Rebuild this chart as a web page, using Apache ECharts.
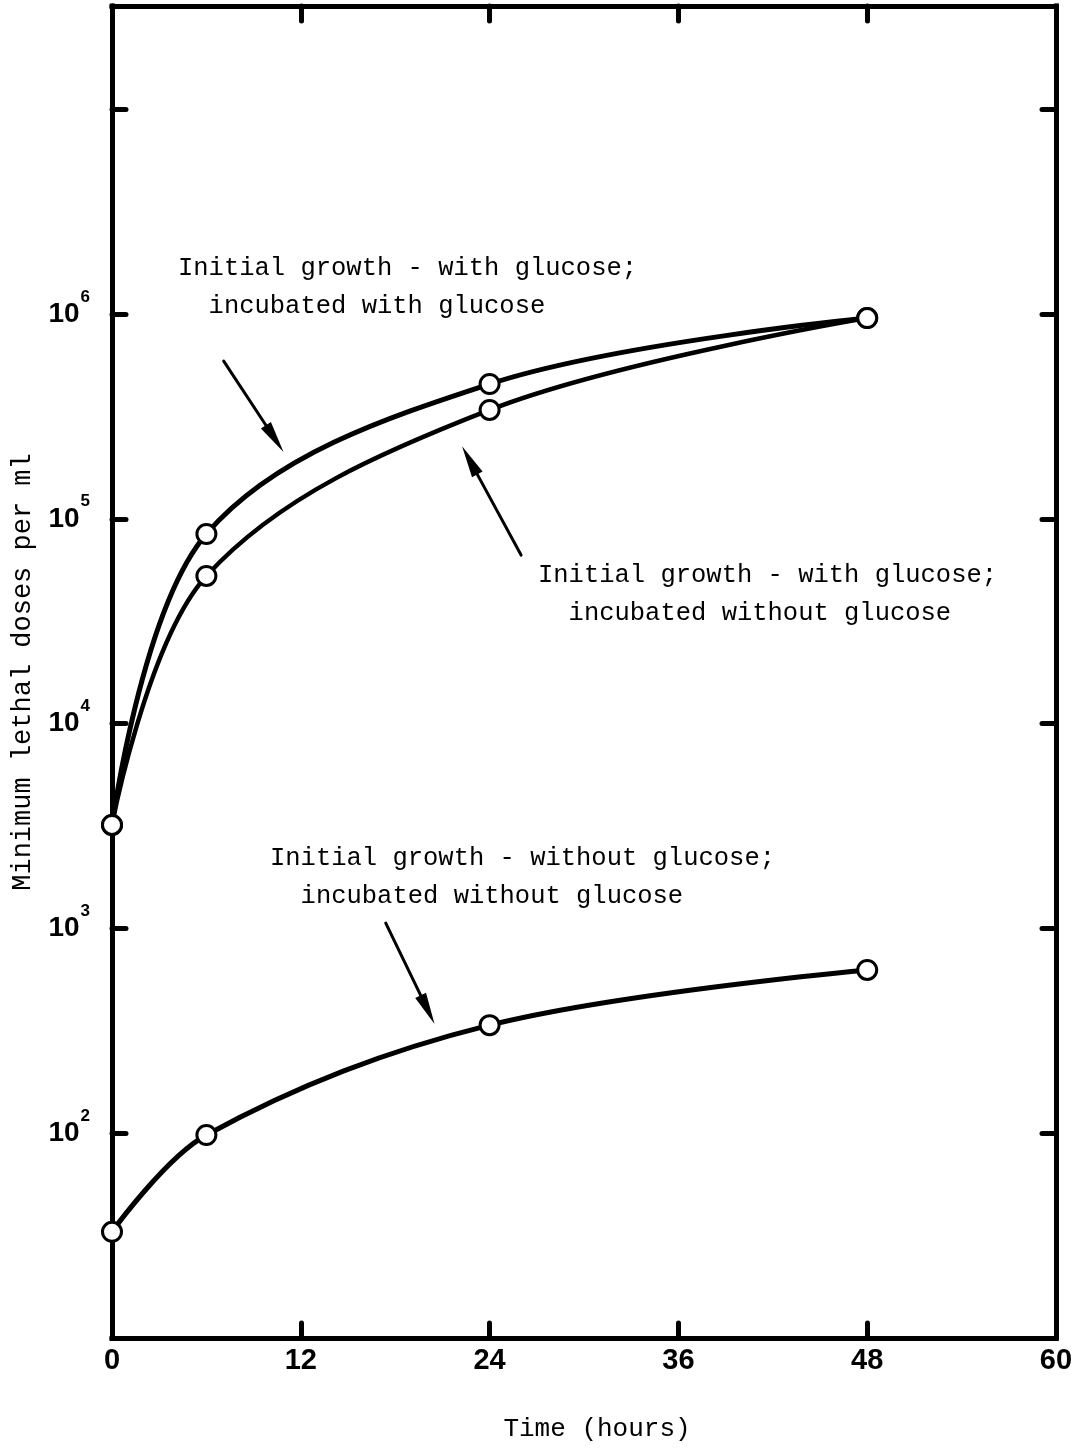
<!DOCTYPE html>
<html>
<head>
<meta charset="utf-8">
<script src="https://cdn.jsdelivr.net/npm/echarts@6/dist/echarts.min.js"></script>
<style>
html,body{margin:0;padding:0;background:#fff;}
#c{width:1079px;height:1449px;}
</style>
</head>
<body>
<div id="c"></div>
<script>
// ---- data ----
const hours = [0, 6, 24, 48];
const withGlucoseIncWithGlucose = [3200, 84300, 455000, 955000];
const withGlucoseIncWithoutGlucose = [3200, 52600, 340000, 955000];
const withoutGlucoseIncWithoutGlucose = [33, 98, 337, 627];
const xTickValues = [0, 12, 24, 36, 48, 60];
const yLabelExponents = [2, 3, 4, 5, 6];
// arrows: [tailHours, tailValue, tipHours, tipValue]
const arrows = [
  [7.1, 5.89e5, 10.9, 2.12e5],
  [26.0, 6.65e4, 22.25, 2.26e5],
  [17.4, 1062, 20.5, 341]
];
const annotationTexts = [
  ['Initial growth - with glucose;', '  incubated with glucose'],
  ['Initial growth - with glucose;', '  incubated without glucose'],
  ['Initial growth - without glucose;', '  incubated without glucose']
];
const annotationPos = [[178, 249], [538, 556], [270, 839]];

// ---- chart ----
const chart = echarts.init(document.getElementById('c'), null, {renderer: 'canvas'});
const BLACK = '#000';
const axisLineStyle = {color: BLACK, width: 5, cap: 'square'};
const tickStyle = {color: BLACK, width: 5, cap: 'round'};
const MONO = '"Liberation Mono", "DejaVu Sans Mono", monospace';
const SANS = '"Liberation Sans", Arial, sans-serif';

function lineSeries(name, vals, width) {
  return {
    type: 'line', name: name,
    data: hours.map((h, i) => [h, vals[i]]),
    xAxisIndex: 0, yAxisIndex: 0,
    smooth: 0.35, clip: false,
    symbol: 'circle', symbolSize: 19,
    lineStyle: {color: BLACK, width: width},
    itemStyle: {color: '#fff', borderColor: BLACK, borderWidth: 3},
    z: 3
  };
}

function yFormatter(v) {
  const e = Math.log10(v);
  const r = Math.round(e);
  if (Math.abs(e - r) > 1e-6 || yLabelExponents.indexOf(r) < 0) return '';
  return '{b|10}{s|' + r + '}';
}

const option = {
  backgroundColor: '#fff',
  animation: false,
  grid: {left: 112, right: 23, top: 6, bottom: 111, containLabel: false},
  xAxis: [
    {
      type: 'value', min: 0, max: 60, interval: 12, position: 'bottom',
      axisLine: {onZero: false, lineStyle: axisLineStyle},
      axisTick: {inside: true, length: 15, lineStyle: tickStyle},
      axisLabel: {
        color: BLACK, fontFamily: SANS, fontWeight: 'bold', fontSize: 29, margin: 8,
        formatter: v => (xTickValues.indexOf(v) >= 0 ? String(v) : '')
      },
      splitLine: {show: false},
      name: 'Time (hours)', nameLocation: 'middle', nameGap: 78,
      nameTextStyle: {color: BLACK, fontFamily: MONO, fontSize: 26, padding: [0, 0, 0, 26]}
    },
    {
      type: 'value', min: 0, max: 60, interval: 12, position: 'top',
      axisLine: {onZero: false, lineStyle: axisLineStyle},
      axisTick: {inside: true, length: 15, lineStyle: tickStyle},
      axisLabel: {show: false},
      splitLine: {show: false}
    }
  ],
  yAxis: [
    {
      type: 'log', logBase: 10, min: 10, max: 3.19e7, position: 'left',
      axisLine: {onZero: false, lineStyle: axisLineStyle},
      axisTick: {inside: true, length: 14, lineStyle: tickStyle},
      minorTick: {show: false},
      splitLine: {show: false},
      axisLabel: {
        margin: 22, formatter: yFormatter,
        rich: {
          b: {fontFamily: SANS, fontWeight: 'bold', fontSize: 28, color: BLACK, lineHeight: 30},
          s: {fontFamily: SANS, fontWeight: 'bold', fontSize: 17, color: BLACK, lineHeight: 17, padding: [0, 0, 34, 1]}
        }
      },
      name: 'Minimum lethal doses per ml', nameLocation: 'middle', nameGap: 76,
      nameTextStyle: {color: BLACK, fontFamily: MONO, fontSize: 27}
    },
    {
      type: 'log', logBase: 10, min: 10, max: 3.19e7, position: 'right',
      axisLine: {onZero: false, lineStyle: axisLineStyle},
      axisTick: {inside: true, length: 14, lineStyle: tickStyle},
      minorTick: {show: false},
      splitLine: {show: false},
      axisLabel: {show: false}
    }
  ],
  series: [
    lineSeries('Initial growth - with glucose; incubated with glucose', withGlucoseIncWithGlucose, 5),
    lineSeries('Initial growth - with glucose; incubated without glucose', withGlucoseIncWithoutGlucose, 4.5),
    lineSeries('Initial growth - without glucose; incubated without glucose', withoutGlucoseIncWithoutGlucose, 5),
    {
      type: 'custom', name: 'arrows', data: arrows, clip: false,
      xAxisIndex: 0, yAxisIndex: 0,
      encode: {x: [0, 2], y: [1, 3]},
      z: 2,
      renderItem: function (params, api) {
        const p1 = api.coord([api.value(0), api.value(1)]);
        const p2 = api.coord([api.value(2), api.value(3)]);
        const dx = p2[0] - p1[0], dy = p2[1] - p1[1];
        const L = Math.hypot(dx, dy);
        const ux = dx / L, uy = dy / L;
        const hl = 32, hw = 6;
        const bx = p2[0] - ux * hl, by = p2[1] - uy * hl;
        return {
          type: 'group',
          children: [
            {type: 'line', shape: {x1: p1[0], y1: p1[1], x2: bx + ux * 6, y2: by + uy * 6},
             style: {stroke: BLACK, lineWidth: 3, lineCap: 'round'}},
            {type: 'polygon', shape: {points: [[p2[0], p2[1]], [bx - uy * hw, by + ux * hw], [bx + uy * hw, by - ux * hw]]},
             style: {fill: BLACK}}
          ]
        };
      }
    }
  ],
  graphic: annotationTexts.map((lines, i) => ({
    type: 'text', left: annotationPos[i][0], top: annotationPos[i][1], z: 10,
    style: {text: lines.join('\n'), font: '25.5px ' + MONO, fill: BLACK, lineHeight: 38}
  }))
};
chart.setOption(option);
</script>
</body>
</html>
